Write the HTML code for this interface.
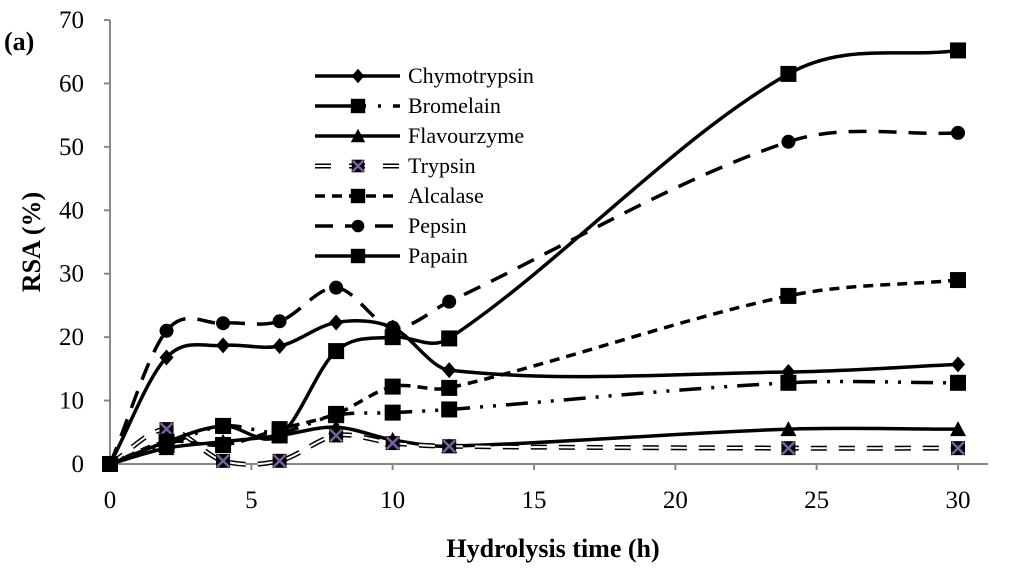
<!DOCTYPE html>
<html><head><meta charset="utf-8"><style>
body{margin:0;background:#fff}
svg{display:block;font-family:"Liberation Serif",serif}
</style></head><body>
<svg id="chart" width="1024" height="574" viewBox="0 0 1024 574">
<text x="4" y="50" font-size="26" font-weight="bold">(a)</text>
<g id="axes"></g><g id="series"></g><g id="legend"></g>
<text x="553" y="557" font-size="26" font-weight="bold" text-anchor="middle">Hydrolysis time (h)</text>
<text transform="translate(40,242) rotate(-90)" font-size="26" font-weight="bold" text-anchor="middle">RSA (%)</text>
</svg>
<script>
const times=[0,2,4,6,8,10,12,24,30];
const names=["Chymotrypsin","Bromelain","Flavourzyme","Trypsin","Alcalase","Pepsin","Papain"];
const chymotrypsin=[0,16.8,18.7,18.6,22.3,21.5,14.8,14.5,15.7];
const bromelain=[0,3,6,5,7.7,8.1,8.6,12.8,12.8];
const flavourzyme=[0,2.5,3.5,4.5,5.8,3.8,2.8,5.5,5.5];
const trypsin=[0,5.5,0.5,0.5,4.5,3.3,2.8,2.5,2.5];
const alcalase=[0,3.5,3,5.5,7.9,12.2,12,26.5,29];
const pepsin=[0,21,22.2,22.5,27.8,21.5,25.6,50.8,52.2];
const papain=[0,3.5,6,4.5,17.8,20,19.8,61.5,65.2];
const xTicks=[0,5,10,15,20,25,30];
const yTicks=[0,10,20,30,40,50,60,70];
const NS="http://www.w3.org/2000/svg";
const X=v=>110+v*(958-110)/30, Y=v=>464-v*(464-20)/70;
function mk(t,a,p){const e=document.createElementNS(NS,t);for(const k in a)e.setAttribute(k,a[k]);p.appendChild(e);return e;}
const ax=document.getElementById('axes');
let l=mk('line',{x1:110,y1:20,x2:110,y2:464,stroke:'#888','stroke-width':2},ax);

l=mk('line',{x1:110,y1:464,x2:988,y2:464,stroke:'#888','stroke-width':2},ax);

yTicks.forEach(v=>{mk('line',{x1:104,y1:Y(v),x2:110,y2:Y(v),stroke:'#888','stroke-width':2},ax);
 const t=mk('text',{x:84,y:Y(v)+8,'font-size':25,'text-anchor':'end'},ax);t.textContent=v;
 });
xTicks.forEach(v=>{mk('line',{x1:X(v),y1:464,x2:X(v),y2:470,stroke:'#888','stroke-width':2},ax);
 const t=mk('text',{x:X(v),y:508,'font-size':25,'text-anchor':'middle'},ax);t.textContent=v;
 });
function path(vals){const p=vals.map((v,i)=>[X(times[i]),Y(v)]);const n=p.length;
 const m=p.map((q,i)=>{const a=p[Math.max(0,i-1)],b=p[Math.min(n-1,i+1)];return (b[1]-a[1])/(b[0]-a[0]);});
 let d=`M${p[0][0]},${p[0][1]}`;
 for(let i=0;i<n-1;i++){const dx=(p[i+1][0]-p[i][0])/3;
  d+=` C${p[i][0]+dx},${p[i][1]+m[i]*dx} ${p[i+1][0]-dx},${p[i+1][1]-m[i+1]*dx} ${p[i+1][0]},${p[i+1][1]}`;}return d;}
const styles=[
 {d:chymotrypsin,dash:'',m:'diamond',w:3.5},
 {d:bromelain,dash:'22 10 3 10 3 10',m:'square',w:3.5,ldash:'40 8 3 12 3 12'},
 {d:flavourzyme,dash:'',m:'triangle',w:3.5},
 {d:trypsin,dash:'16 12',m:'x',w:1.5,hollow:true},
 {d:alcalase,dash:'10 7',m:'square',w:3.5},
 {d:pepsin,dash:'18 12',m:'circle',w:3.5},
 {d:papain,dash:'',m:'square',w:3.5}];
function marker(g,m,x,y,s){s=s||1;
 if(m=='diamond')mk('path',{d:`M${x},${y-8*s}L${x+7*s},${y}L${x},${y+8*s}L${x-7*s},${y}Z`,fill:'#000'},g);
 else if(m=='square')mk('rect',{x:x-8*s,y:y-8*s,width:16*s,height:16*s,fill:'#000'},g);
 else if(m=='triangle')mk('path',{d:`M${x},${y-8*s}L${x+8*s},${y+7*s}L${x-8*s},${y+7*s}Z`,fill:'#000'},g);
 else if(m=='circle')mk('circle',{cx:x,cy:y,r:7*s,fill:'#000'},g);
 else {mk('rect',{x:x-7*s,y:y-7*s,width:14*s,height:14*s,fill:'#000'},g);
  mk('path',{d:`M${x-6*s},${y-6*s}L${x+6*s},${y+6*s}M${x+6*s},${y-6*s}L${x-6*s},${y+6*s}`,stroke:'#7a5fa0','stroke-width':2.5},g);}
}
const sg=document.getElementById('series'), lg=document.getElementById('legend');
styles.forEach((s,k)=>{const g=mk('g',{},sg);
 
 
 if(s.hollow){mk('path',{d:path(s.d),fill:'none',stroke:'#000','stroke-width':5,'stroke-dasharray':s.dash},g);
  mk('path',{d:path(s.d),fill:'none',stroke:'#fff','stroke-width':2,'stroke-dasharray':s.dash},g);}
 else mk('path',{d:path(s.d),fill:'none',stroke:'#000','stroke-width':s.w,'stroke-dasharray':s.dash},g);
 s.d.forEach((v,i)=>marker(g,s.m,X(times[i]),Y(v)));
 const ly=76+k*30;const e=mk('g',{},lg);
 
 
 if(s.hollow){mk('line',{x1:315,y1:ly,x2:400,y2:ly,stroke:'#000','stroke-width':5,'stroke-dasharray':'16 18'},e);
  mk('line',{x1:315,y1:ly,x2:400,y2:ly,stroke:'#fff','stroke-width':2,'stroke-dasharray':'16 18'},e);}
 else mk('line',{x1:315,y1:ly,x2:400,y2:ly,stroke:'#000','stroke-width':s.w,'stroke-dasharray':s.ldash||s.dash},e);
 marker(e,s.m,358,ly,0.9);
 const t=mk('text',{x:408,y:ly+7,'font-size':22},e);t.textContent=names[k];
});
</script>
</body></html>
